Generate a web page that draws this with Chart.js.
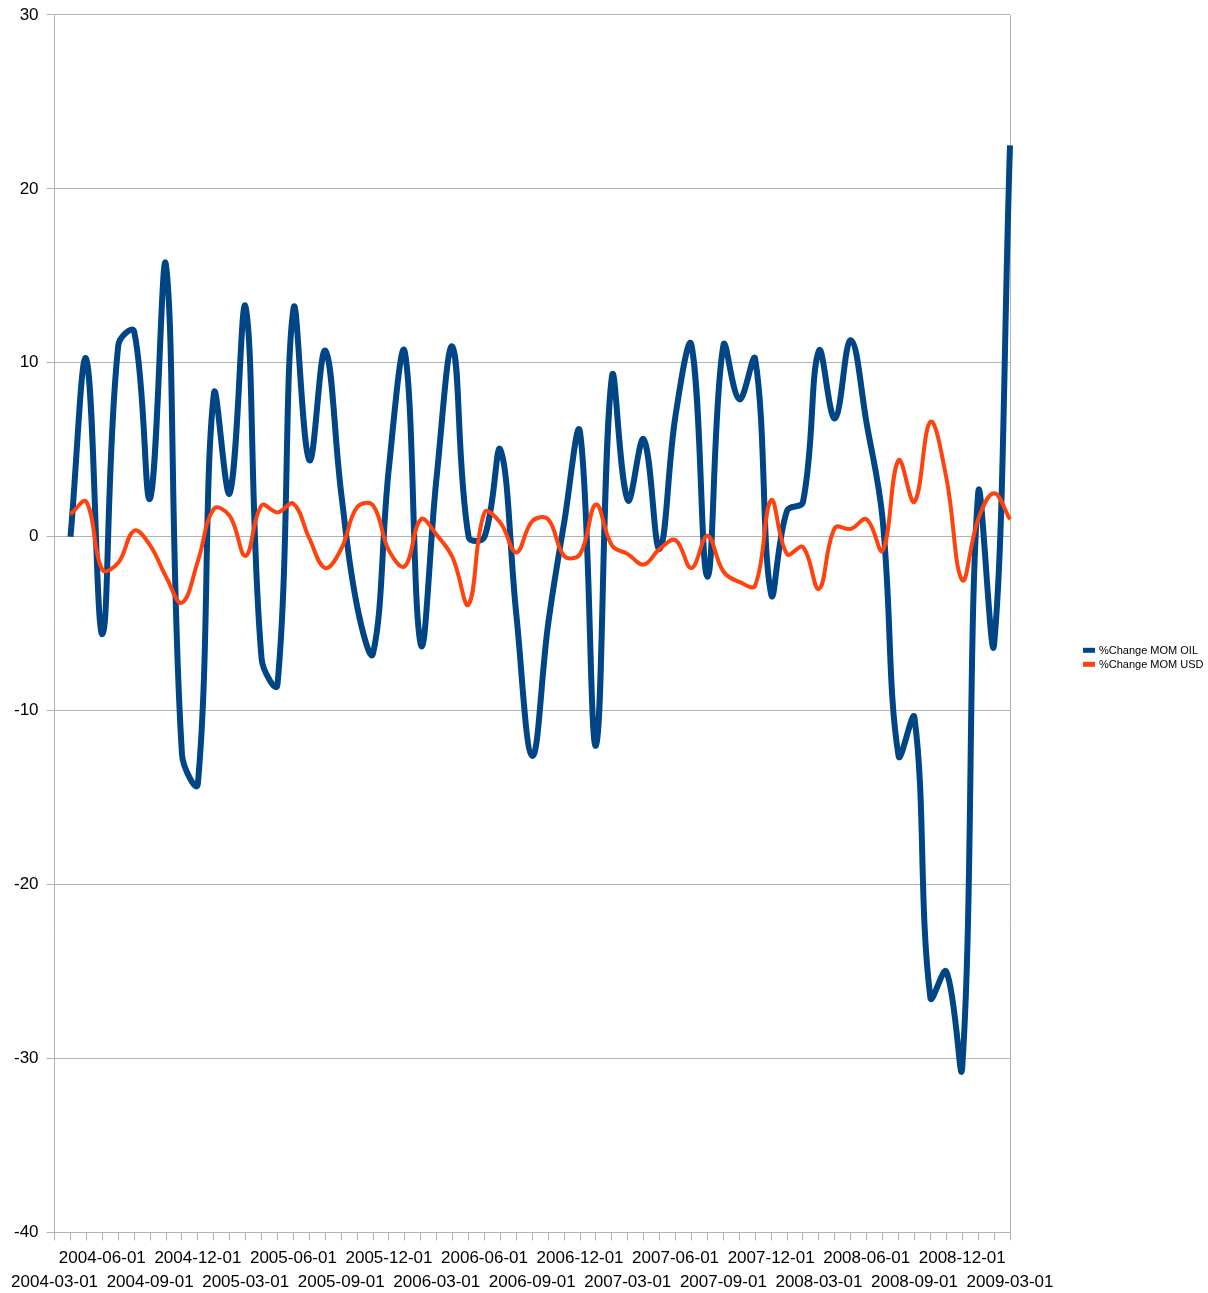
<!DOCTYPE html>
<html>
<head>
<meta charset="utf-8">
<script src="https://cdn.jsdelivr.net/npm/chart.js@4/dist/chart.umd.min.js"></script>
<style>
html,body{margin:0;padding:0;background:#ffffff;}
#wrap{width:1208px;height:1293px;position:relative;}
</style>
</head>
<body>
<div id="wrap"><canvas id="c" width="1208" height="1293"></canvas></div>
<script>
const categories = [
  '2004-03-01','2004-04-01','2004-05-01','2004-06-01','2004-07-01','2004-08-01','2004-09-01','2004-10-01','2004-11-01','2004-12-01',
  '2005-01-01','2005-02-01','2005-03-01','2005-04-01','2005-05-01','2005-06-01','2005-07-01','2005-08-01','2005-09-01','2005-10-01','2005-11-01','2005-12-01',
  '2006-01-01','2006-02-01','2006-03-01','2006-04-01','2006-05-01','2006-06-01','2006-07-01','2006-08-01','2006-09-01','2006-10-01','2006-11-01','2006-12-01',
  '2007-01-01','2007-02-01','2007-03-01','2007-04-01','2007-05-01','2007-06-01','2007-07-01','2007-08-01','2007-09-01','2007-10-01','2007-11-01','2007-12-01',
  '2008-01-01','2008-02-01','2008-03-01','2008-04-01','2008-05-01','2008-06-01','2008-07-01','2008-08-01','2008-09-01','2008-10-01','2008-11-01','2008-12-01',
  '2009-01-01','2009-02-01','2009-03-01'
];

const oilSeries = [
  null, 0, 10.2, -5.6, 11.0, 11.8, 2.2, 15.6, -12.5, -14.2,
  8.2, 2.5, 13.2, -7.0, -8.5, 13.1, 4.4, 10.7, 2.5, -4.0, -6.7, 4.0,
  10.6, -6.2, 3.5, 10.9, 0, 0, 5.0, -4.5, -12.6, -5.0, 0.8, 6.0,
  -12.0, 9.2, 2.1, 5.6, -0.7, 7.0, 11.0, -2.3, 11.0, 7.9, 10.2, -3.3,
  1.5, 2.0, 10.7, 6.8, 11.3, 6.5, 1.0, -12.6, -10.4, -26.5, -25.0, -30.5,
  2.5, -6.2, 22.5
];

const usdSeries = [
  null, 1.3, 2.0, -1.9, -1.5, 0.35, -0.5, -2.3, -3.8, -1.4,
  1.6, 1.2, -1.1, 1.8, 1.4, 1.9, -0.1, -1.8, -0.7, 1.7, 1.8, -0.8,
  -1.7, 1.0, 0.1, -1.2, -3.9, 1.4, 0.8, -0.9, 0.9, 1.0, -1.1, -1.0,
  1.85, -0.5, -1.0, -1.6, -0.7, -0.2, -1.8, 0.05, -2.0, -2.6, -2.8, 2.1,
  -1.0, -0.6, -3.0, 0.5, 0.45, 1.0, -0.8, 4.4, 2.0, 6.6, 3.4, -2.5,
  1.0, 2.5, 1.0
];

const seriesNames = ['%Change MOM OIL', '%Change MOM USD'];
const seriesColors = ['#004586', '#ff420e'];
const yMin = -40, yMax = 30, yStep = 10;

const GRID = '#b3b3b3';
const FONT = "'Liberation Sans', Arial, sans-serif";

const legendPlugin = {
  id: 'sideLegend',
  afterDraw(chart) {
    const ctx = chart.ctx;
    ctx.save();
    ctx.font = '11px ' + FONT;
    ctx.textBaseline = 'middle';
    ctx.textAlign = 'left';
    const x0 = 1083, y0 = 650.3, dy = 14;
    seriesNames.forEach((name, i) => {
      const y = y0 + i * dy;
      ctx.fillStyle = seriesColors[i];
      ctx.fillRect(x0, y - 2.5, 12, 5);
      ctx.fillStyle = '#000000';
      ctx.fillText(name, x0 + 16, y + 0.5);
    });
    ctx.restore();
  }
};

new Chart(document.getElementById('c'), {
  type: 'line',
  data: {
    labels: categories,
    datasets: [
      {
        label: seriesNames[0],
        data: oilSeries,
        borderColor: seriesColors[0],
        backgroundColor: seriesColors[0],
        borderWidth: 6,
        tension: 0.4,
        pointRadius: 0,
        fill: false,
        order: 2
      },
      {
        label: seriesNames[1],
        data: usdSeries,
        borderColor: seriesColors[1],
        backgroundColor: seriesColors[1],
        borderWidth: 4,
        tension: 0.4,
        pointRadius: 0,
        fill: false,
        order: 1
      }
    ]
  },
  options: {
    responsive: false,
    animation: false,
    devicePixelRatio: 1,
    layout: { padding: { left: 6, right: 198, top: 0, bottom: -7 } },
    plugins: {
      legend: { display: false },
      tooltip: { enabled: false }
    },
    scales: {
      x: {
        type: 'category',
        offset: false,
        grid: {
          drawOnChartArea: true,
          color: (c) => (c.index === categories.length - 1 ? GRID : 'rgba(0,0,0,0)'),
          tickColor: GRID,
          tickLength: 8,
          lineWidth: 1
        },
        border: { display: true, color: GRID },
        ticks: {
          autoSkip: false,
          maxRotation: 0,
          minRotation: 0,
          padding: 6,
          color: '#000000',
          font: { family: FONT, size: 17, lineHeight: 1.4 },
          callback: function (value, index) {
            if (index % 3 !== 0) return '';
            const lbl = categories[index];
            return (index / 3) % 2 === 0 ? ['', lbl] : [lbl, ''];
          }
        }
      },
      y: {
        min: yMin,
        max: yMax,
        grid: { color: GRID, tickColor: GRID, tickLength: 8, lineWidth: 1 },
        border: { display: true, color: GRID },
        ticks: {
          stepSize: yStep,
          padding: 8,
          color: '#000000',
          font: { family: FONT, size: 17, lineHeight: 0.82 }
        }
      }
    }
  },
  plugins: [legendPlugin]
});
</script>
</body>
</html>
